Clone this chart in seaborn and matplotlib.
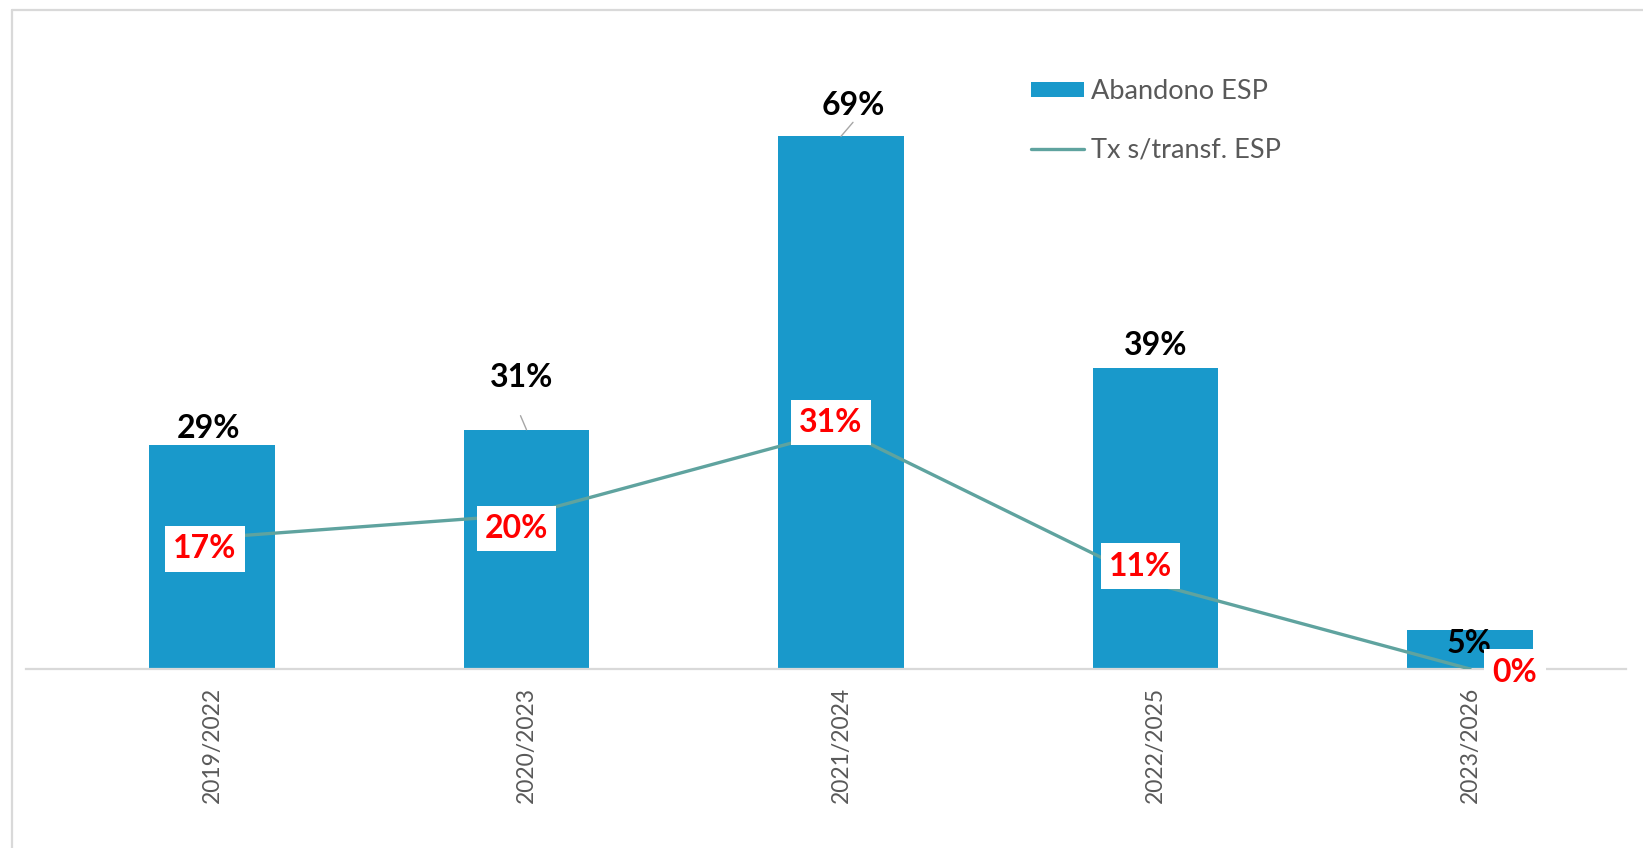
import matplotlib
matplotlib.use("Agg")
import matplotlib.pyplot as plt
from matplotlib.patches import Patch
from matplotlib.lines import Line2D
import seaborn as sns
import pandas as pd

# chart data
periodos = ['2019/2022', '2020/2023', '2021/2024', '2022/2025', '2023/2026']
abandono = [0.29, 0.31, 0.69, 0.39, 0.05]
transf = [0.17, 0.20, 0.31, 0.11, 0.00]
series_names = ['Abandono ESP', 'Tx s/transf. ESP']

# colours
BAR_COLOR = '#1999cb'
LINE_COLOR = '#5fa39f'
GRAY_TXT = '#595959'
BORDER = '#d9d9d9'

# label offsets in pixels (dx, dy) from the data point
bar_lbl_off = [(-3, 17), (-5, 52), (12, 31), (0, 22), (-1, -13)]
bar_leader = [None, (-6, 14), (12, 14), None, None]
line_lbl_off = [(-7, -11), (-10, -14), (-10, 7), (-15, 18), (45, -3)]

sns.set_style('white')
plt.rcParams['font.family'] = ['Lato', 'DejaVu Sans']

W, H, DPI = 1643, 848, 100
fig = plt.figure(figsize=(W / DPI, H / DPI), dpi=DPI)

# plot area: baseline at y=669px, 1.0 -> 772px, first bar centre at 212px, step 314.5px
x0, x1 = 26, 1626
base, top = 669, 669 - 0.8 * 772
ax = fig.add_axes([x0 / W, (H - base) / H, (x1 - x0) / W, (base - top) / H])

df = pd.DataFrame({'periodo': periodos, 'abandono': abandono, 'transf': transf})

sns.barplot(data=df, x='periodo', y='abandono', color=BAR_COLOR, saturation=1,
            width=0.4, linewidth=0, ax=ax, zorder=2)
sns.pointplot(data=df, x='periodo', y='transf', color=LINE_COLOR, markers='',
              errorbar=None, linewidth=2.4, ax=ax, zorder=3)

ax.set_xlim((x0 - 212) / 314.5, (x1 - 212) / 314.5)
ax.set_ylim(0, 0.8)
ax.set_xlabel('')
ax.set_ylabel('')
ax.set_yticks([])
for side in ['top', 'left', 'right']:
    ax.spines[side].set_visible(False)
ax.spines['bottom'].set_color(BORDER)
ax.spines['bottom'].set_linewidth(1.6)
ax.tick_params(axis='x', length=0, pad=13, labelsize=16.5, labelcolor=GRAY_TXT)
plt.setp(ax.get_xticklabels(), rotation=90, va='top', ha='center')

# bar value labels
for i, v in enumerate(abandono):
    dx, dy = bar_lbl_off[i]
    ax.annotate(f'{v:.0%}', xy=(i, v), xytext=(dx, dy), textcoords='offset pixels',
                ha='center', va='center', fontsize=23, fontweight='bold',
                color='black', zorder=5, annotation_clip=False)
    if bar_leader[i] is not None:
        ax.annotate('', xy=(i, v), xytext=bar_leader[i], textcoords='offset pixels',
                    arrowprops=dict(arrowstyle='-', color='#a6a6a6', lw=1,
                                    shrinkA=0, shrinkB=0), zorder=4)

# line value labels in white boxes
for i, v in enumerate(transf):
    dx, dy = line_lbl_off[i]
    ax.annotate(f'{v:.0%}', xy=(i, v), xytext=(dx, dy), textcoords='offset pixels',
                ha='center', va='center', fontsize=23, fontweight='bold',
                color='#ff0000', zorder=6, annotation_clip=False,
                bbox=dict(boxstyle='square,pad=0.26', facecolor='white', edgecolor='none'))

# legend
handles = [Patch(facecolor=BAR_COLOR, edgecolor='none'),
           Line2D([0], [0], color=LINE_COLOR, lw=2.4)]
fig.legend(handles, series_names, loc='upper left',
           bbox_to_anchor=(1031 / W, 1 - 79 / H), frameon=False,
           fontsize=19.5, labelcolor=GRAY_TXT, handlelength=1.95,
           handleheight=0.5, handletextpad=0.27, labelspacing=1.25,
           borderpad=0, borderaxespad=0)

# outer chart border (left and top edges)
fig.add_artist(Line2D([12 / W, 12 / W], [0, 1 - 10 / H], color=BORDER, lw=1.6,
                      transform=fig.transFigure))
fig.add_artist(Line2D([12 / W, 1], [1 - 10 / H, 1 - 10 / H], color=BORDER, lw=1.6,
                      transform=fig.transFigure))

fig.savefig('out.png', dpi=DPI, facecolor='white')
